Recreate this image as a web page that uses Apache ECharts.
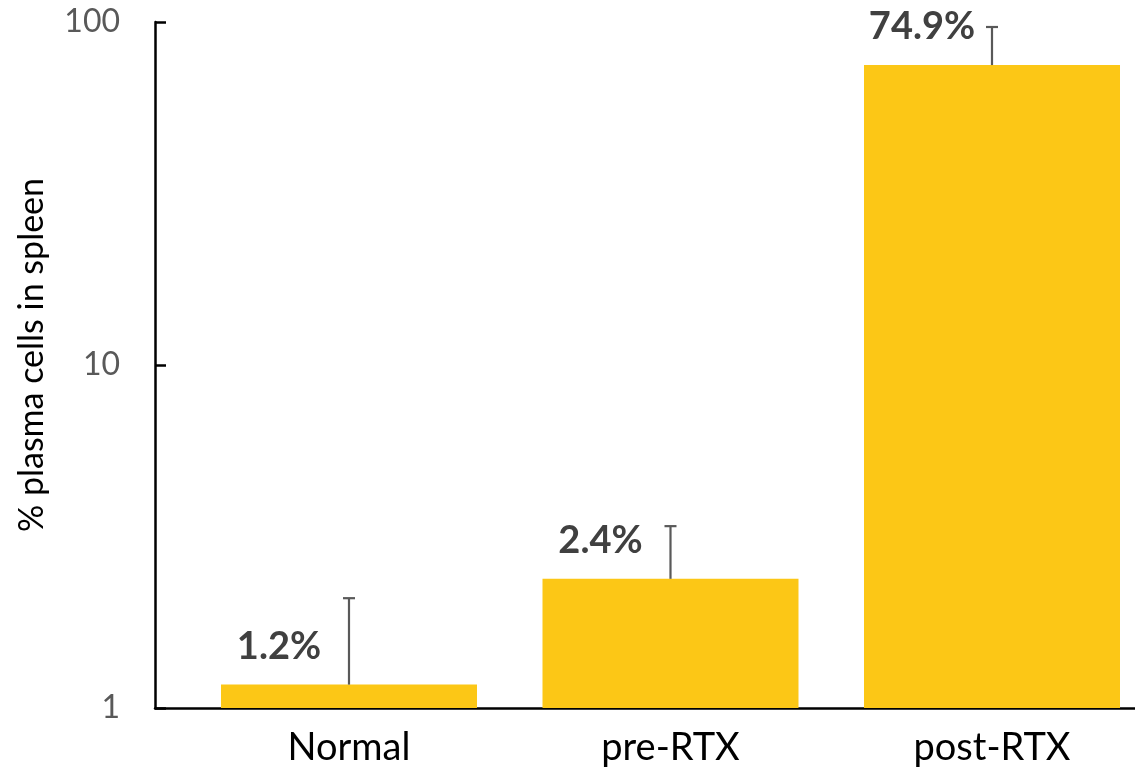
<!DOCTYPE html>
<html>
<head>
<meta charset="utf-8">
<script src="https://cdn.jsdelivr.net/npm/echarts@6/dist/echarts.min.js"></script>
<style>html,body{margin:0;padding:0;background:#fff;}#c{width:1135px;height:770px;}</style>
</head>
<body>
<div id="c"></div>
<script>
var categories = ['Normal', 'pre-RTX', 'post-RTX'];
var values = [1.17, 2.38, 74.9];
var valueLabels = ['1.2%', '2.4%', '74.9%'];
var errorUpper = [2.09, 3.39, 96.7];
var yTicks = [1, 10, 100];

var chart = echarts.init(document.getElementById('c'));
var font = 'Lato, "Open Sans", sans-serif';
var positions = categories.map(function (c, i) { return i; });
chart.setOption({
  animation: false,
  backgroundColor: '#ffffff',
  grid: {left: 155, right: 0, top: 22, bottom: 62},
  xAxis: {type: 'value', min: -0.6034, max: 2.4448,
    axisLine: {show: true, onZero: false, lineStyle: {color: '#000', width: 2.5}},
    axisTick: {show: false}, splitLine: {show: false},
    axisLabel: {customValues: positions, color: '#000', fontSize: 38, fontFamily: font, margin: 21,
      formatter: function (v) { return categories[Math.round(v)]; }}},
  yAxis: {type: 'log', logBase: 10, min: yTicks[0], max: yTicks[yTicks.length - 1],
    axisLine: {show: true, onZero: false, lineStyle: {color: '#000', width: 2.5}},
    axisTick: {show: true, inside: true, length: 11, lineStyle: {color: '#000', width: 2.5}},
    splitLine: {show: false},
    axisLabel: {color: '#595959', fontSize: 32, fontFamily: font, margin: 35},
    name: '% plasma cells in spleen', nameLocation: 'middle', nameGap: 106, nameRotate: 90,
    nameTextStyle: {color: '#000', fontSize: 34, fontFamily: font, padding: [0, 0, 0, 20]}},
  series: [
    {type: 'bar', data: values.map(function (v, i) { return [positions[i], v]; }), barWidth: 256,
     itemStyle: {color: '#FCC716'},
     label: {show: true, position: 'top', offset: [-70, -14],
       formatter: function (p) { return valueLabels[p.dataIndex]; },
       color: '#404040', fontSize: 38, fontWeight: 'bold', fontFamily: font}},
    {type: 'custom', z: 5,
     data: values.map(function (v, i) { return [positions[i], v, errorUpper[i]]; }),
     renderItem: function (params, api) {
       var b = api.coord([api.value(0), api.value(1)]);
       var t = api.coord([api.value(0), api.value(2)]);
       var style = {stroke: '#595959', lineWidth: 2.2};
       return {type: 'group', children: [
         {type: 'line', shape: {x1: b[0], y1: b[1], x2: t[0], y2: t[1]}, style: style},
         {type: 'line', shape: {x1: t[0] - 6, y1: t[1], x2: t[0] + 6, y2: t[1]}, style: style}
       ]};
     }}
  ]
});
</script>
</body>
</html>
